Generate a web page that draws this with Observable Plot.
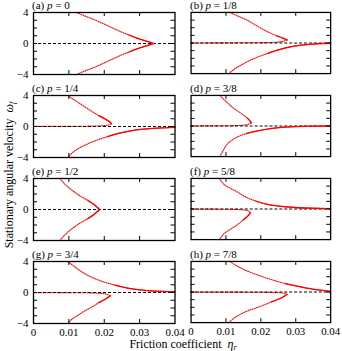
<!DOCTYPE html>
<html><head><meta charset="utf-8">
<script src="https://cdn.jsdelivr.net/npm/d3@7"></script>
<script src="https://cdn.jsdelivr.net/npm/@observablehq/plot@0.6"></script>
<style>
body{margin:0;background:#fff;}
#chart{position:relative;width:342px;height:351px;overflow:hidden;font-family:"Liberation Serif","Times New Roman",Times,"DejaVu Serif",serif;color:#000;}
.lab{position:absolute;font-size:11px;line-height:11px;white-space:nowrap;}
.axl{font-size:12px;line-height:12px;}
.pl svg{overflow:visible;}
sub{font-size:8px;vertical-align:-2px;line-height:0;}
</style></head><body><div id="chart"></div>
<script>
// Panel labels
const panelLetters = ["a","b","c","d","e","f","g","h"];
const pValues = ["0","1/8","1/4","3/8","1/2","5/8","3/4","7/8"];
// Axis ticks
const xDomain = [0, 0.04];
const yDomain = [-4, 4];
const xTicks = [0.01, 0.02, 0.03];
const xTickLabels = [0, 0.01, 0.02, 0.03, 0.04];
const yTicks = [-3, -2, -1, 0, 1, 2, 3];
const yTickLabels = [-4, 0, 4];

// Branches [eta_r, omega_f]
const a_up = [[0.0122,4],[0.0148,3.5],[0.0176,3],[0.0200,2.5],[0.0224,2],[0.0248,1.5],[0.0270,1.1],[0.0292,0.7],[0.0316,0.35],[0.0340,0]];
const a_lo = [[0.0122,-4],[0.0148,-3.5],[0.0176,-3],[0.0200,-2.5],[0.0224,-2],[0.0248,-1.5],[0.0270,-1.1],[0.0292,-0.7],[0.0316,-0.35],[0.0340,0]];

const b_up = [[0.0111,4],[0.0135,3.5],[0.0160,3],[0.0190,2.2],[0.0218,1.5],[0.0245,0.95],[0.0265,0.6],[0.0275,0.4]];
const b_ret = [[0.0275,0.4],[0.0262,0.2],[0.0230,0.08],[0.0150,0.03],[0,0.01]];
const b_lo = [[0.0108,-4],[0.0128,-3.3],[0.0155,-2.6],[0.0185,-1.95],[0.0220,-1.35],[0.0250,-0.9],[0.0280,-0.55],[0.0310,-0.32],[0.0340,-0.18],[0.0370,-0.08],[0.0400,-0.03]];

const c_up = [[0.0097,4],[0.0113,3.5],[0.0133,2.9],[0.0160,2.1],[0.0185,1.4],[0.0205,0.9],[0.0218,0.5],[0.0220,0.35]];
const c_ret = [[0.0220,0.35],[0.0210,0.18],[0.0185,0.08],[0.0120,0.03],[0,0.01]];
const c_lo = [[0.0097,-4],[0.0112,-3.3],[0.0132,-2.7],[0.0155,-2.2],[0.0180,-1.75],[0.0210,-1.3],[0.0240,-0.9],[0.0275,-0.56],[0.0310,-0.35],[0.0350,-0.2],[0.0400,-0.1]];

const d_up = [[0.0083,4],[0.0098,3.3],[0.0120,2.4],[0.0145,1.6],[0.0162,1.0],[0.0170,0.6],[0.0172,0.4]];
const d_ret = [[0.0172,0.4],[0.0163,0.2],[0.0140,0.08],[0.0090,0.03],[0,0.01]];
const d_lo = [[0.0083,-4],[0.0092,-3.2],[0.0105,-2.3],[0.0130,-1.5],[0.0158,-1.0],[0.0190,-0.65],[0.0223,-0.36],[0.0260,-0.17],[0.0300,-0.07],[0.0350,-0.02],[0.0400,0]];

const e_up = [[0.0075,4],[0.0088,3.3],[0.0110,2.45],[0.0130,1.8],[0.0154,1.17],[0.0172,0.6],[0.0187,0]];
const e_lo = [[0.0075,-4],[0.0088,-3.3],[0.0110,-2.45],[0.0130,-1.8],[0.0154,-1.17],[0.0172,-0.6],[0.0187,0]];

const f_up = [[0.0081,4],[0.0095,3.2],[0.0130,2.3],[0.0160,1.5],[0.0185,1.05],[0.0215,0.65],[0.0246,0.42],[0.0300,0.2],[0.0350,0.1],[0.0400,0.05]];
const f_lo = [[0.0081,-4],[0.0095,-3.2],[0.0115,-2.6],[0.0133,-2.05],[0.0150,-1.4],[0.0163,-0.9],[0.0170,-0.47]];
const f_ret = [[0.0170,-0.47],[0.0165,-0.25],[0.0145,-0.1],[0.0090,-0.03],[0,-0.01]];

const g_up = [[0.0097,4],[0.0120,3.2],[0.0150,2.3],[0.0190,1.5],[0.0230,0.95],[0.0266,0.57],[0.0300,0.35],[0.0330,0.22],[0.0365,0.14],[0.0400,0.1]];
const g_lo = [[0.0097,-4],[0.0110,-3.4],[0.0124,-3.0],[0.0142,-2.45],[0.0162,-1.95],[0.0185,-1.3],[0.0205,-0.8],[0.0217,-0.43]];
const g_ret = [[0.0217,-0.43],[0.0205,-0.2],[0.0180,-0.08],[0.0120,-0.03],[0,-0.01]];

const h_up = [[0.0111,4],[0.0140,3.2],[0.0180,2.4],[0.0223,1.73],[0.0270,1.1],[0.0317,0.65],[0.0360,0.3],[0.0400,0.08]];
const h_lo = [[0.0108,-4],[0.0130,-3.2],[0.0160,-2.5],[0.0195,-1.95],[0.0230,-1.3],[0.0260,-0.75],[0.0275,-0.3]];
const h_ret = [[0.0275,-0.3],[0.0265,-0.15],[0.0230,-0.06],[0.0150,-0.02],[0,-0.01]];

const mainBranches = [[a_up,a_lo],[b_up,b_lo],[c_up,c_lo],[d_up,d_lo],[e_up,e_lo],[f_up,f_lo],[g_up,g_lo],[h_up,h_lo]];
const returnBranches = [[],[b_ret],[c_ret],[d_ret],[],[f_ret],[g_ret],[h_ret]];

// Layout
const W = 141.5, H = 62;
const colX = [33, 191];
const rowY = [12.3, 95.1, 177.9, 260.7];
const chart = document.getElementById("chart");
const font = {fontFamily: "'Liberation Serif', 'Times New Roman', Times, serif", fontSize: "11px", background: "transparent", overflow: "visible", color: "#000"};

function rows(branches, tag) {
  return branches.flatMap((b, k) => b.map(([eta, omega]) => ({eta, omega, id: tag + k})));
}

mainBranches.forEach((branches, i) => {
  const col = i % 2, row = Math.floor(i / 2);
  const mL = 32, mR = 12, mT = 4, mB = row === 3 ? 22 : 6;
  const main = rows(branches, "m");
  const ret = rows(returnBranches[i], "r");
  const solid = main.filter(d => Math.abs(d.omega) <= 1.45);
  const marks = [
    Plot.line(ret, {x: "eta", y: "omega", z: "id", stroke: "red", strokeWidth: 1.1, strokeDasharray: "1,1.3", curve: "catmull-rom"}),
    Plot.ruleY([0], {stroke: "#000", strokeWidth: 1, strokeDasharray: "3,2"}),
    Plot.line(main, {x: "eta", y: "omega", z: "id", stroke: "red", strokeWidth: 1.1, strokeDasharray: "1,1.3", curve: "catmull-rom"}),
    Plot.line(solid, {x: "eta", y: "omega", z: "id", stroke: "red", strokeWidth: 1.3, curve: "catmull-rom"}),
    Plot.ruleX(xTicks, {x: d => d, stroke: "#000", insetTop: H - 4}),
    Plot.ruleX(xTicks, {x: d => d, stroke: "#000", insetBottom: H - 4}),
    Plot.ruleY(yTicks, {y: d => d, stroke: "#000", insetRight: W - 4}),
    Plot.ruleY(yTicks, {y: d => d, stroke: "#000", insetLeft: W - 4}),
    Plot.frame({stroke: "#000", strokeWidth: 1.3})
  ];
  if (row === 3) marks.push(Plot.axisX(xTickLabels, {anchor: "bottom", tickSize: 0, tickPadding: 5, label: null, fontSize: 11, tickFormat: d => String(d)}));
  if (col === 0) marks.push(Plot.axisY(yTickLabels, {anchor: "left", tickSize: 0, tickPadding: 5, label: null, fontSize: 11}));
  const svg = Plot.plot({
    width: mL + W + mR, height: mT + H + mB,
    marginLeft: mL, marginRight: mR, marginTop: mT, marginBottom: mB,
    x: {domain: xDomain, axis: null},
    y: {domain: yDomain, axis: null},
    style: font,
    marks
  });
  const wrap = document.createElement("div");
  wrap.className = "pl";
  wrap.style.position = "absolute";
  wrap.style.left = (colX[col] - mL) + "px";
  wrap.style.top = (rowY[row] - mT) + "px";
  wrap.appendChild(svg);
  chart.appendChild(wrap);

  const lab = document.createElement("div");
  lab.className = "lab";
  lab.style.left = (colX[col] - 1) + "px";
  lab.style.top = (rowY[row] - 12) + "px";
  lab.innerHTML = `(${panelLetters[i]}) <i>p</i> = ${pValues[i]}`;
  chart.appendChild(lab);
});

const yl = document.createElement("div");
yl.className = "lab axl";
yl.style.width = "300px";
yl.style.textAlign = "center";
yl.style.left = (9 - 150) + "px";
yl.style.top = (175 - 6) + "px";
yl.style.transform = "rotate(-90deg)";
yl.innerHTML = "Stationary angular velocity&nbsp; <i>ω</i><sub><i>f</i></sub>";
chart.appendChild(yl);

const xl = document.createElement("div");
xl.className = "lab axl";
xl.style.width = "200px";
xl.style.textAlign = "center";
xl.style.left = (183 - 100) + "px";
xl.style.top = "338px";
xl.innerHTML = "Friction coefficient&nbsp; <i>η</i><sub><i>r</i></sub>";
chart.appendChild(xl);
</script></body></html>
